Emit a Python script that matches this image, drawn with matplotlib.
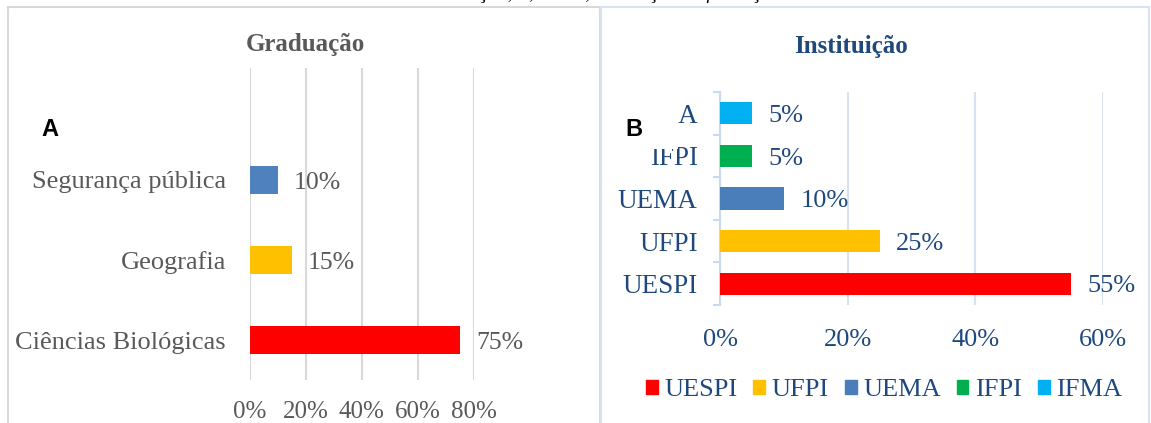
import matplotlib.pyplot as plt
import matplotlib.patches as mpatches
import matplotlib.ticker as mtick

plt.rcParams['font.family'] = ['Liberation Serif', 'DejaVu Serif']

# painel A - graduação
grad_cats = ['Ciências Biológicas', 'Geografia', 'Segurança pública']
grad_vals = [0.75, 0.15, 0.10]
grad_colors = ['#ff0000', '#ffc000', '#4f81bd']
grad_ticks = [0, 0.2, 0.4, 0.6, 0.8]

# painel B - instituição
inst_cats = ['UESPI', 'UFPI', 'UEMA', 'IFPI', 'IFMA']
inst_vals = [0.55, 0.25, 0.10, 0.05, 0.05]
inst_colors = ['#ff0000', '#ffc000', '#4a7ebb', '#00b050', '#00b0f0']
inst_ticks = [0, 0.2, 0.4, 0.6]

W, H = 1151, 423
grey = '#595959'
navy = '#1f497d'

fig = plt.figure(figsize=(W / 100, H / 100), dpi=100)

def fx(px):
    return px / W

def fy(py):
    return 1 - py / H

# molduras dos dois graficos
fig.patches.append(mpatches.Rectangle((fx(8), fy(440)), fx(592), 433 / H, transform=fig.transFigure,
                                      fill=False, edgecolor='#d9d9d9', lw=1.5, zorder=0))
fig.patches.append(mpatches.Rectangle((fx(601), fy(440)), fx(548), 433 / H, transform=fig.transFigure,
                                      fill=False, edgecolor='#d6e3f3', lw=1.5, zorder=0))

# legenda de cima (cortada na borda, como no original)
fig.text(fx(600), fy(-6), 'Graduação, A, IFMA, Instituição de formação', ha='center', va='center',
         fontsize=14, style='italic', color='black')

# ---- A
ax1 = fig.add_axes([fx(249.5), fy(380), fx(224), 312 / H])
y1 = range(len(grad_cats))
bars1 = ax1.barh(y1, grad_vals, height=0.34, color=grad_colors, zorder=3)
ax1.set_xlim(0, 0.8)
ax1.set_ylim(-0.5, 3.4)
ax1.set_xticks(grad_ticks)
ax1.xaxis.set_major_formatter(mtick.PercentFormatter(1.0, decimals=0))
ax1.set_yticks(list(y1))
ax1.set_yticklabels(grad_cats)
ax1.tick_params(axis='x', length=0, pad=15, labelsize=18, labelcolor=grey)
ax1.tick_params(axis='y', length=0, pad=17, labelsize=19, labelcolor=grey)
ax1.grid(axis='x', color='#d9d9d9', lw=1.5, zorder=0)
for s in ax1.spines.values():
    s.set_visible(False)
for rect, v in zip(bars1, grad_vals):
    ax1.annotate('%d%%' % round(v * 100), (rect.get_width(), rect.get_y() + rect.get_height() / 2),
                 xytext=(12, -2), textcoords='offset points', va='center', ha='left',
                 fontsize=18.5, color=grey)
fig.text(fx(305), fy(45), 'Graduação', ha='center', va='center', fontsize=18,
         fontweight='bold', color=grey)
fig.text(fx(41), fy(130), 'A', ha='left', va='center', fontsize=17, fontweight='bold',
         family='Liberation Sans', color='black')

# ---- B
ax2 = fig.add_axes([fx(720), fy(305), fx(383), 213 / H])
y2 = range(len(inst_cats))
bars2 = ax2.barh(y2, inst_vals, height=0.52, color=inst_colors, zorder=3)
ax2.set_xlim(0, 0.6)
ax2.set_ylim(-0.5, 4.5)
ax2.set_xticks(inst_ticks)
ax2.xaxis.set_major_formatter(mtick.PercentFormatter(1.0, decimals=0))
ax2.set_yticks(list(y2))
ax2.set_yticklabels(inst_cats)
ax2.set_yticks([i - 0.5 for i in range(len(inst_cats) + 1)], minor=True)
ax2.tick_params(axis='x', length=0, pad=17, labelsize=19, labelcolor=navy)
ax2.tick_params(axis='y', which='major', length=0, pad=16, labelsize=19.5, labelcolor=navy)
ax2.tick_params(axis='y', which='minor', length=5, width=1.5, color='#c9d9ee')
ax2.grid(axis='x', color='#d6e3f3', lw=1.5, zorder=0)
for k, s in ax2.spines.items():
    s.set_visible(k == 'left')
ax2.spines['left'].set_color('#c9d9ee')
ax2.spines['left'].set_linewidth(1.5)
for rect, v in zip(bars2, inst_vals):
    ax2.annotate('%d%%' % round(v * 100), (rect.get_width(), rect.get_y() + rect.get_height() / 2),
                 xytext=(12, -2), textcoords='offset points', va='center', ha='left',
                 fontsize=19, color=navy)
fig.text(fx(851), fy(47), 'Instituição', ha='center', va='center', fontsize=18,
         fontweight='bold', color=navy)

# caixa branca do "B" por cima do rotulo (deixa so o "A" de IFMA, como no original)
fig.patches.append(mpatches.Rectangle((fx(606), fy(149)), fx(71.5), 52 / H, transform=fig.transFigure,
                                      facecolor='white', edgecolor='none', zorder=5))
fig.text(fx(625), fy(129), 'B', ha='left', va='center', fontsize=17, fontweight='bold',
         family='Liberation Sans', color='black', zorder=6)

handles = [mpatches.Patch(color=c, label=l) for c, l in zip(inst_colors, inst_cats)]
leg = fig.legend(handles=handles, loc='center', bbox_to_anchor=(fx(884), fy(390)), ncol=5,
                 frameon=False, fontsize=19, handlelength=0.45, handleheight=0.45,
                 handletextpad=0.25, columnspacing=0.6, labelcolor=navy)

fig.savefig('out.png', dpi=100)
